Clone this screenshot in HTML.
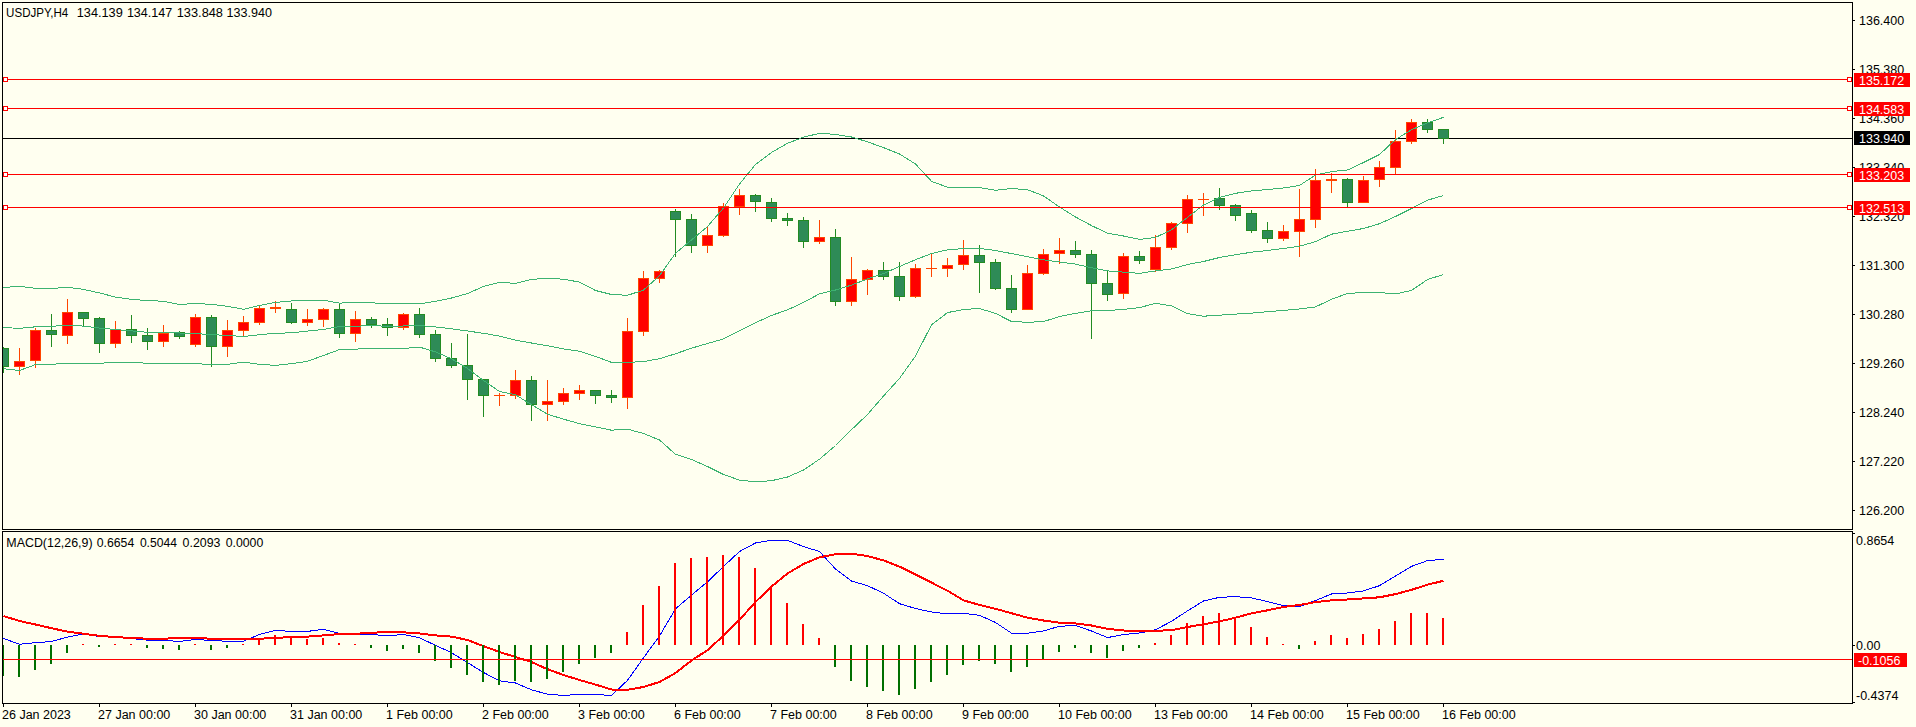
<!DOCTYPE html>
<html><head><meta charset="utf-8"><title>USDJPY,H4</title>
<style>html,body{margin:0;padding:0;background:#FFFFF0;width:1916px;height:727px;overflow:hidden}
text{white-space:pre}</style></head>
<body><svg width="1916" height="727" viewBox="0 0 1916 727" style="display:block" shape-rendering="crispEdges"><g>
<rect x="3" y="138" width="1849" height="1" fill="#000"/>
<rect x="3" y="347" width="1" height="26" fill="#228B22"/>
<rect x="-2" y="348" width="11" height="19" fill="#228B22"/>
<rect x="-1" y="349" width="9" height="17" fill="#2E8B57"/>
<rect x="19" y="348" width="1" height="27" fill="#FF4500"/>
<rect x="14" y="361" width="11" height="6" fill="#FF4500"/>
<rect x="15" y="362" width="9" height="4" fill="#FF0000"/>
<rect x="35" y="328" width="1" height="40" fill="#FF4500"/>
<rect x="30" y="330" width="11" height="31" fill="#FF4500"/>
<rect x="31" y="331" width="9" height="29" fill="#FF0000"/>
<rect x="51" y="314" width="1" height="33" fill="#228B22"/>
<rect x="46" y="330" width="11" height="5" fill="#228B22"/>
<rect x="47" y="331" width="9" height="3" fill="#2E8B57"/>
<rect x="67" y="299" width="1" height="45" fill="#FF4500"/>
<rect x="62" y="312" width="11" height="24" fill="#FF4500"/>
<rect x="63" y="313" width="9" height="22" fill="#FF0000"/>
<rect x="83" y="312" width="1" height="14" fill="#228B22"/>
<rect x="78" y="312" width="11" height="7" fill="#228B22"/>
<rect x="79" y="313" width="9" height="5" fill="#2E8B57"/>
<rect x="99" y="317" width="1" height="36" fill="#228B22"/>
<rect x="94" y="318" width="11" height="26" fill="#228B22"/>
<rect x="95" y="319" width="9" height="24" fill="#2E8B57"/>
<rect x="115" y="321" width="1" height="27" fill="#FF4500"/>
<rect x="110" y="329" width="11" height="15" fill="#FF4500"/>
<rect x="111" y="330" width="9" height="13" fill="#FF0000"/>
<rect x="131" y="315" width="1" height="28" fill="#228B22"/>
<rect x="126" y="329" width="11" height="7" fill="#228B22"/>
<rect x="127" y="330" width="9" height="5" fill="#2E8B57"/>
<rect x="147" y="328" width="1" height="22" fill="#228B22"/>
<rect x="142" y="335" width="11" height="7" fill="#228B22"/>
<rect x="143" y="336" width="9" height="5" fill="#2E8B57"/>
<rect x="163" y="325" width="1" height="22" fill="#FF4500"/>
<rect x="158" y="333" width="11" height="9" fill="#FF4500"/>
<rect x="159" y="334" width="9" height="7" fill="#FF0000"/>
<rect x="179" y="331" width="1" height="8" fill="#228B22"/>
<rect x="174" y="332" width="11" height="5" fill="#228B22"/>
<rect x="175" y="333" width="9" height="3" fill="#2E8B57"/>
<rect x="195" y="314" width="1" height="33" fill="#FF4500"/>
<rect x="190" y="317" width="11" height="28" fill="#FF4500"/>
<rect x="191" y="318" width="9" height="26" fill="#FF0000"/>
<rect x="211" y="315" width="1" height="52" fill="#228B22"/>
<rect x="206" y="317" width="11" height="30" fill="#228B22"/>
<rect x="207" y="318" width="9" height="28" fill="#2E8B57"/>
<rect x="227" y="320" width="1" height="37" fill="#FF4500"/>
<rect x="222" y="330" width="11" height="17" fill="#FF4500"/>
<rect x="223" y="331" width="9" height="15" fill="#FF0000"/>
<rect x="243" y="316" width="1" height="20" fill="#FF4500"/>
<rect x="238" y="322" width="11" height="9" fill="#FF4500"/>
<rect x="239" y="323" width="9" height="7" fill="#FF0000"/>
<rect x="259" y="306" width="1" height="19" fill="#FF4500"/>
<rect x="254" y="308" width="11" height="15" fill="#FF4500"/>
<rect x="255" y="309" width="9" height="13" fill="#FF0000"/>
<rect x="275" y="301" width="1" height="12" fill="#FF4500"/>
<rect x="270" y="307" width="11" height="2" fill="#FF4500"/>
<rect x="291" y="303" width="1" height="21" fill="#228B22"/>
<rect x="286" y="309" width="11" height="14" fill="#228B22"/>
<rect x="287" y="310" width="9" height="12" fill="#2E8B57"/>
<rect x="307" y="309" width="1" height="17" fill="#FF4500"/>
<rect x="302" y="319" width="11" height="4" fill="#FF4500"/>
<rect x="303" y="320" width="9" height="2" fill="#FF0000"/>
<rect x="323" y="308" width="1" height="19" fill="#FF4500"/>
<rect x="318" y="309" width="11" height="11" fill="#FF4500"/>
<rect x="319" y="310" width="9" height="9" fill="#FF0000"/>
<rect x="339" y="304" width="1" height="34" fill="#228B22"/>
<rect x="334" y="309" width="11" height="25" fill="#228B22"/>
<rect x="335" y="310" width="9" height="23" fill="#2E8B57"/>
<rect x="355" y="311" width="1" height="31" fill="#FF4500"/>
<rect x="350" y="319" width="11" height="15" fill="#FF4500"/>
<rect x="351" y="320" width="9" height="13" fill="#FF0000"/>
<rect x="371" y="317" width="1" height="11" fill="#228B22"/>
<rect x="366" y="319" width="11" height="6" fill="#228B22"/>
<rect x="367" y="320" width="9" height="4" fill="#2E8B57"/>
<rect x="387" y="318" width="1" height="18" fill="#228B22"/>
<rect x="382" y="324" width="11" height="4" fill="#228B22"/>
<rect x="383" y="325" width="9" height="2" fill="#2E8B57"/>
<rect x="403" y="313" width="1" height="17" fill="#FF4500"/>
<rect x="398" y="314" width="11" height="14" fill="#FF4500"/>
<rect x="399" y="315" width="9" height="12" fill="#FF0000"/>
<rect x="419" y="308" width="1" height="30" fill="#228B22"/>
<rect x="414" y="314" width="11" height="21" fill="#228B22"/>
<rect x="415" y="315" width="9" height="19" fill="#2E8B57"/>
<rect x="435" y="330" width="1" height="32" fill="#228B22"/>
<rect x="430" y="334" width="11" height="25" fill="#228B22"/>
<rect x="431" y="335" width="9" height="23" fill="#2E8B57"/>
<rect x="451" y="343" width="1" height="25" fill="#228B22"/>
<rect x="446" y="358" width="11" height="8" fill="#228B22"/>
<rect x="447" y="359" width="9" height="6" fill="#2E8B57"/>
<rect x="467" y="334" width="1" height="66" fill="#228B22"/>
<rect x="462" y="365" width="11" height="15" fill="#228B22"/>
<rect x="463" y="366" width="9" height="13" fill="#2E8B57"/>
<rect x="483" y="379" width="1" height="38" fill="#228B22"/>
<rect x="478" y="379" width="11" height="17" fill="#228B22"/>
<rect x="479" y="380" width="9" height="15" fill="#2E8B57"/>
<rect x="499" y="393" width="1" height="13" fill="#FF4500"/>
<rect x="494" y="395" width="11" height="1" fill="#FF4500"/>
<rect x="515" y="370" width="1" height="29" fill="#FF4500"/>
<rect x="510" y="380" width="11" height="16" fill="#FF4500"/>
<rect x="511" y="381" width="9" height="14" fill="#FF0000"/>
<rect x="531" y="376" width="1" height="45" fill="#228B22"/>
<rect x="526" y="380" width="11" height="25" fill="#228B22"/>
<rect x="527" y="381" width="9" height="23" fill="#2E8B57"/>
<rect x="547" y="380" width="1" height="41" fill="#FF4500"/>
<rect x="542" y="401" width="11" height="4" fill="#FF4500"/>
<rect x="543" y="402" width="9" height="2" fill="#FF0000"/>
<rect x="563" y="388" width="1" height="17" fill="#FF4500"/>
<rect x="558" y="393" width="11" height="9" fill="#FF4500"/>
<rect x="559" y="394" width="9" height="7" fill="#FF0000"/>
<rect x="579" y="385" width="1" height="15" fill="#FF4500"/>
<rect x="574" y="390" width="11" height="4" fill="#FF4500"/>
<rect x="575" y="391" width="9" height="2" fill="#FF0000"/>
<rect x="595" y="390" width="1" height="14" fill="#228B22"/>
<rect x="590" y="390" width="11" height="6" fill="#228B22"/>
<rect x="591" y="391" width="9" height="4" fill="#2E8B57"/>
<rect x="611" y="390" width="1" height="13" fill="#228B22"/>
<rect x="606" y="395" width="11" height="3" fill="#228B22"/>
<rect x="607" y="396" width="9" height="1" fill="#2E8B57"/>
<rect x="627" y="318" width="1" height="91" fill="#FF4500"/>
<rect x="622" y="331" width="11" height="67" fill="#FF4500"/>
<rect x="623" y="332" width="9" height="65" fill="#FF0000"/>
<rect x="643" y="271" width="1" height="65" fill="#FF4500"/>
<rect x="638" y="278" width="11" height="54" fill="#FF4500"/>
<rect x="639" y="279" width="9" height="52" fill="#FF0000"/>
<rect x="659" y="270" width="1" height="13" fill="#FF4500"/>
<rect x="654" y="271" width="11" height="8" fill="#FF4500"/>
<rect x="655" y="272" width="9" height="6" fill="#FF0000"/>
<rect x="675" y="209" width="1" height="48" fill="#228B22"/>
<rect x="670" y="211" width="11" height="9" fill="#228B22"/>
<rect x="671" y="212" width="9" height="7" fill="#2E8B57"/>
<rect x="691" y="214" width="1" height="39" fill="#228B22"/>
<rect x="686" y="219" width="11" height="27" fill="#228B22"/>
<rect x="687" y="220" width="9" height="25" fill="#2E8B57"/>
<rect x="707" y="227" width="1" height="26" fill="#FF4500"/>
<rect x="702" y="235" width="11" height="11" fill="#FF4500"/>
<rect x="703" y="236" width="9" height="9" fill="#FF0000"/>
<rect x="723" y="203" width="1" height="34" fill="#FF4500"/>
<rect x="718" y="206" width="11" height="30" fill="#FF4500"/>
<rect x="719" y="207" width="9" height="28" fill="#FF0000"/>
<rect x="739" y="189" width="1" height="26" fill="#FF4500"/>
<rect x="734" y="195" width="11" height="12" fill="#FF4500"/>
<rect x="735" y="196" width="9" height="10" fill="#FF0000"/>
<rect x="755" y="194" width="1" height="18" fill="#228B22"/>
<rect x="750" y="195" width="11" height="7" fill="#228B22"/>
<rect x="751" y="196" width="9" height="5" fill="#2E8B57"/>
<rect x="771" y="198" width="1" height="24" fill="#228B22"/>
<rect x="766" y="202" width="11" height="17" fill="#228B22"/>
<rect x="767" y="203" width="9" height="15" fill="#2E8B57"/>
<rect x="787" y="213" width="1" height="13" fill="#228B22"/>
<rect x="782" y="218" width="11" height="3" fill="#228B22"/>
<rect x="783" y="219" width="9" height="1" fill="#2E8B57"/>
<rect x="803" y="217" width="1" height="31" fill="#228B22"/>
<rect x="798" y="220" width="11" height="22" fill="#228B22"/>
<rect x="799" y="221" width="9" height="20" fill="#2E8B57"/>
<rect x="819" y="220" width="1" height="24" fill="#FF4500"/>
<rect x="814" y="237" width="11" height="5" fill="#FF4500"/>
<rect x="815" y="238" width="9" height="3" fill="#FF0000"/>
<rect x="835" y="229" width="1" height="77" fill="#228B22"/>
<rect x="830" y="237" width="11" height="65" fill="#228B22"/>
<rect x="831" y="238" width="9" height="63" fill="#2E8B57"/>
<rect x="851" y="257" width="1" height="49" fill="#FF4500"/>
<rect x="846" y="279" width="11" height="23" fill="#FF4500"/>
<rect x="847" y="280" width="9" height="21" fill="#FF0000"/>
<rect x="867" y="269" width="1" height="26" fill="#FF4500"/>
<rect x="862" y="270" width="11" height="10" fill="#FF4500"/>
<rect x="863" y="271" width="9" height="8" fill="#FF0000"/>
<rect x="883" y="262" width="1" height="18" fill="#228B22"/>
<rect x="878" y="270" width="11" height="7" fill="#228B22"/>
<rect x="879" y="271" width="9" height="5" fill="#2E8B57"/>
<rect x="899" y="262" width="1" height="39" fill="#228B22"/>
<rect x="894" y="276" width="11" height="21" fill="#228B22"/>
<rect x="895" y="277" width="9" height="19" fill="#2E8B57"/>
<rect x="915" y="264" width="1" height="34" fill="#FF4500"/>
<rect x="910" y="268" width="11" height="29" fill="#FF4500"/>
<rect x="911" y="269" width="9" height="27" fill="#FF0000"/>
<rect x="931" y="254" width="1" height="23" fill="#FF4500"/>
<rect x="926" y="268" width="11" height="1" fill="#FF4500"/>
<rect x="947" y="258" width="1" height="19" fill="#FF4500"/>
<rect x="942" y="265" width="11" height="4" fill="#FF4500"/>
<rect x="943" y="266" width="9" height="2" fill="#FF0000"/>
<rect x="963" y="240" width="1" height="30" fill="#FF4500"/>
<rect x="958" y="255" width="11" height="10" fill="#FF4500"/>
<rect x="959" y="256" width="9" height="8" fill="#FF0000"/>
<rect x="979" y="245" width="1" height="48" fill="#228B22"/>
<rect x="974" y="255" width="11" height="8" fill="#228B22"/>
<rect x="975" y="256" width="9" height="6" fill="#2E8B57"/>
<rect x="995" y="259" width="1" height="31" fill="#228B22"/>
<rect x="990" y="262" width="11" height="27" fill="#228B22"/>
<rect x="991" y="263" width="9" height="25" fill="#2E8B57"/>
<rect x="1011" y="275" width="1" height="38" fill="#228B22"/>
<rect x="1006" y="288" width="11" height="22" fill="#228B22"/>
<rect x="1007" y="289" width="9" height="20" fill="#2E8B57"/>
<rect x="1027" y="265" width="1" height="45" fill="#FF4500"/>
<rect x="1022" y="273" width="11" height="37" fill="#FF4500"/>
<rect x="1023" y="274" width="9" height="35" fill="#FF0000"/>
<rect x="1043" y="249" width="1" height="26" fill="#FF4500"/>
<rect x="1038" y="254" width="11" height="20" fill="#FF4500"/>
<rect x="1039" y="255" width="9" height="18" fill="#FF0000"/>
<rect x="1059" y="238" width="1" height="26" fill="#FF4500"/>
<rect x="1054" y="250" width="11" height="4" fill="#FF4500"/>
<rect x="1055" y="251" width="9" height="2" fill="#FF0000"/>
<rect x="1075" y="241" width="1" height="17" fill="#228B22"/>
<rect x="1070" y="250" width="11" height="5" fill="#228B22"/>
<rect x="1071" y="251" width="9" height="3" fill="#2E8B57"/>
<rect x="1091" y="250" width="1" height="89" fill="#228B22"/>
<rect x="1086" y="254" width="11" height="30" fill="#228B22"/>
<rect x="1087" y="255" width="9" height="28" fill="#2E8B57"/>
<rect x="1107" y="271" width="1" height="30" fill="#228B22"/>
<rect x="1102" y="283" width="11" height="12" fill="#228B22"/>
<rect x="1103" y="284" width="9" height="10" fill="#2E8B57"/>
<rect x="1123" y="253" width="1" height="46" fill="#FF4500"/>
<rect x="1118" y="256" width="11" height="38" fill="#FF4500"/>
<rect x="1119" y="257" width="9" height="36" fill="#FF0000"/>
<rect x="1139" y="251" width="1" height="13" fill="#228B22"/>
<rect x="1134" y="256" width="11" height="5" fill="#228B22"/>
<rect x="1135" y="257" width="9" height="3" fill="#2E8B57"/>
<rect x="1155" y="235" width="1" height="37" fill="#FF4500"/>
<rect x="1150" y="247" width="11" height="23" fill="#FF4500"/>
<rect x="1151" y="248" width="9" height="21" fill="#FF0000"/>
<rect x="1171" y="222" width="1" height="28" fill="#FF4500"/>
<rect x="1166" y="223" width="11" height="25" fill="#FF4500"/>
<rect x="1167" y="224" width="9" height="23" fill="#FF0000"/>
<rect x="1187" y="195" width="1" height="38" fill="#FF4500"/>
<rect x="1182" y="199" width="11" height="25" fill="#FF4500"/>
<rect x="1183" y="200" width="9" height="23" fill="#FF0000"/>
<rect x="1203" y="193" width="1" height="23" fill="#FF4500"/>
<rect x="1198" y="199" width="11" height="1" fill="#FF4500"/>
<rect x="1219" y="188" width="1" height="22" fill="#228B22"/>
<rect x="1214" y="198" width="11" height="8" fill="#228B22"/>
<rect x="1215" y="199" width="9" height="6" fill="#2E8B57"/>
<rect x="1235" y="204" width="1" height="17" fill="#228B22"/>
<rect x="1230" y="205" width="11" height="11" fill="#228B22"/>
<rect x="1231" y="206" width="9" height="9" fill="#2E8B57"/>
<rect x="1251" y="210" width="1" height="23" fill="#228B22"/>
<rect x="1246" y="213" width="11" height="18" fill="#228B22"/>
<rect x="1247" y="214" width="9" height="16" fill="#2E8B57"/>
<rect x="1267" y="222" width="1" height="21" fill="#228B22"/>
<rect x="1262" y="230" width="11" height="9" fill="#228B22"/>
<rect x="1263" y="231" width="9" height="7" fill="#2E8B57"/>
<rect x="1283" y="225" width="1" height="16" fill="#FF4500"/>
<rect x="1278" y="231" width="11" height="8" fill="#FF4500"/>
<rect x="1279" y="232" width="9" height="6" fill="#FF0000"/>
<rect x="1299" y="189" width="1" height="68" fill="#FF4500"/>
<rect x="1294" y="219" width="11" height="13" fill="#FF4500"/>
<rect x="1295" y="220" width="9" height="11" fill="#FF0000"/>
<rect x="1315" y="169" width="1" height="59" fill="#FF4500"/>
<rect x="1310" y="180" width="11" height="40" fill="#FF4500"/>
<rect x="1311" y="181" width="9" height="38" fill="#FF0000"/>
<rect x="1331" y="173" width="1" height="20" fill="#FF4500"/>
<rect x="1326" y="179" width="11" height="2" fill="#FF4500"/>
<rect x="1347" y="178" width="1" height="29" fill="#228B22"/>
<rect x="1342" y="179" width="11" height="24" fill="#228B22"/>
<rect x="1343" y="180" width="9" height="22" fill="#2E8B57"/>
<rect x="1363" y="176" width="1" height="27" fill="#FF4500"/>
<rect x="1358" y="180" width="11" height="23" fill="#FF4500"/>
<rect x="1359" y="181" width="9" height="21" fill="#FF0000"/>
<rect x="1379" y="161" width="1" height="26" fill="#FF4500"/>
<rect x="1374" y="167" width="11" height="13" fill="#FF4500"/>
<rect x="1375" y="168" width="9" height="11" fill="#FF0000"/>
<rect x="1395" y="130" width="1" height="44" fill="#FF4500"/>
<rect x="1390" y="141" width="11" height="27" fill="#FF4500"/>
<rect x="1391" y="142" width="9" height="25" fill="#FF0000"/>
<rect x="1411" y="119" width="1" height="25" fill="#FF4500"/>
<rect x="1406" y="122" width="11" height="20" fill="#FF4500"/>
<rect x="1407" y="123" width="9" height="18" fill="#FF0000"/>
<rect x="1427" y="119" width="1" height="14" fill="#228B22"/>
<rect x="1422" y="122" width="11" height="8" fill="#228B22"/>
<rect x="1423" y="123" width="9" height="6" fill="#2E8B57"/>
<rect x="1443" y="129" width="1" height="15" fill="#228B22"/>
<rect x="1438" y="129" width="11" height="10" fill="#228B22"/>
<rect x="1439" y="130" width="9" height="8" fill="#2E8B57"/>
</g>
<polyline points="3.5,287.4 19.5,286.4 35.5,288.3 51.5,288.5 67.5,287.2 83.5,289.4 99.5,292.9 115.5,297.1 131.5,299.4 147.5,300.5 163.5,301.3 179.5,304.5 195.5,303.4 211.5,304.4 227.5,306.3 243.5,309.3 259.5,305.4 275.5,302.4 291.5,301.0 307.5,300.3 323.5,300.3 339.5,303.1 355.5,302.4 371.5,302.7 387.5,304.0 403.5,303.5 419.5,303.8 435.5,301.3 451.5,298.0 467.5,293.6 483.5,286.4 499.5,282.3 515.5,283.4 531.5,279.3 547.5,278.4 563.5,279.2 579.5,282.1 595.5,290.5 611.5,294.5 627.5,295.3 643.5,290.1 659.5,275.7 675.5,253.2 691.5,240.0 707.5,226.5 723.5,208.0 739.5,184.0 755.5,164.5 771.5,152.5 787.5,143.3 803.5,137.2 819.5,133.3 835.5,134.4 851.5,137.0 867.5,141.8 883.5,147.6 899.5,154.0 915.5,164.0 931.5,181.3 947.5,187.2 963.5,187.2 979.5,187.5 995.5,190.3 1011.5,188.5 1027.5,189.7 1043.5,195.9 1059.5,207.0 1075.5,217.0 1091.5,225.6 1107.5,233.2 1123.5,236.0 1139.5,239.4 1155.5,237.4 1171.5,229.8 1187.5,217.4 1203.5,205.0 1219.5,197.5 1235.5,193.3 1251.5,191.0 1267.5,189.5 1283.5,188.0 1299.5,185.5 1315.5,175.0 1331.5,171.6 1347.5,170.0 1363.5,162.5 1379.5,154.5 1395.5,139.6 1411.5,129.7 1427.5,122.9 1443.5,117.3" fill="none" stroke="#3CB371" stroke-width="1" shape-rendering="crispEdges" stroke-linejoin="round"/>
<polyline points="3.5,327.5 19.5,328.4 35.5,326.8 51.5,326.4 67.5,325.1 83.5,326.1 99.5,328.1 115.5,329.5 131.5,330.9 147.5,332.3 163.5,332.5 179.5,333.0 195.5,333.5 211.5,334.7 227.5,335.4 243.5,336.5 259.5,334.7 275.5,333.3 291.5,332.8 307.5,331.1 323.5,329.4 339.5,326.6 355.5,326.5 371.5,325.1 387.5,326.7 403.5,326.0 419.5,325.5 435.5,326.9 451.5,328.8 467.5,331.0 483.5,333.3 499.5,336.1 515.5,340.2 531.5,343.0 547.5,345.7 563.5,348.9 579.5,351.3 595.5,356.4 611.5,362.4 627.5,362.4 643.5,361.6 659.5,358.7 675.5,353.8 691.5,348.2 707.5,343.5 723.5,338.9 739.5,330.9 755.5,322.8 771.5,315.4 787.5,309.9 803.5,302.4 819.5,293.8 835.5,290.0 851.5,285.1 867.5,278.9 883.5,273.6 899.5,266.5 915.5,259.7 931.5,253.5 947.5,249.8 963.5,248.6 979.5,248.4 995.5,250.5 1011.5,253.6 1027.5,256.7 1043.5,259.8 1059.5,262.0 1075.5,264.1 1091.5,267.8 1107.5,270.9 1123.5,272.1 1139.5,273.4 1155.5,270.9 1171.5,269.0 1187.5,264.5 1203.5,261.5 1219.5,257.5 1235.5,254.8 1251.5,252.2 1267.5,250.5 1283.5,248.5 1299.5,246.2 1315.5,241.6 1331.5,234.2 1347.5,231.2 1363.5,228.5 1379.5,223.7 1395.5,216.5 1411.5,208.5 1427.5,200.2 1443.5,195.5" fill="none" stroke="#3CB371" stroke-width="1" shape-rendering="crispEdges" stroke-linejoin="round"/>
<polyline points="3.5,368.7 19.5,370.5 35.5,364.6 51.5,364.2 67.5,363.5 83.5,363.2 99.5,363.2 115.5,362.5 131.5,362.5 147.5,363.2 163.5,363.2 179.5,363.2 195.5,363.6 211.5,364.6 227.5,364.3 243.5,362.2 259.5,364.3 275.5,365.4 291.5,363.6 307.5,361.3 323.5,355.5 339.5,349.6 355.5,349.1 371.5,348.5 387.5,348.5 403.5,348.5 419.5,347.1 435.5,351.9 451.5,358.8 467.5,368.4 483.5,380.5 499.5,391.5 515.5,394.8 531.5,404.7 547.5,414.2 563.5,419.2 579.5,423.6 595.5,426.9 611.5,430.2 627.5,429.1 643.5,433.5 659.5,440.0 675.5,454.3 691.5,459.5 707.5,466.5 723.5,474.5 739.5,480.1 755.5,481.9 771.5,480.7 787.5,477.0 803.5,470.0 819.5,459.2 835.5,445.5 851.5,429.7 867.5,414.5 883.5,396.0 899.5,378.4 915.5,356.0 931.5,324.9 947.5,312.6 963.5,309.5 979.5,308.5 995.5,313.4 1011.5,321.5 1027.5,322.3 1043.5,321.6 1059.5,316.5 1075.5,313.4 1091.5,310.7 1107.5,310.5 1123.5,309.4 1139.5,307.6 1155.5,303.4 1171.5,305.8 1187.5,313.6 1203.5,316.2 1219.5,315.2 1235.5,314.1 1251.5,313.1 1267.5,311.7 1283.5,310.4 1299.5,309.0 1315.5,306.9 1331.5,299.3 1347.5,293.5 1363.5,292.5 1379.5,292.5 1395.5,293.9 1411.5,290.4 1427.5,279.5 1443.5,274.5" fill="none" stroke="#3CB371" stroke-width="1" shape-rendering="crispEdges" stroke-linejoin="round"/>
<rect x="3" y="79" width="1849" height="1" fill="#FF0000"/>
<rect x="3" y="77" width="5" height="5" fill="#FF0000"/>
<rect x="4" y="78" width="3" height="3" fill="#FFFFFF"/>
<rect x="1847" y="77" width="5" height="5" fill="#FF0000"/>
<rect x="1848" y="78" width="3" height="3" fill="#FFFFFF"/>
<rect x="3" y="108" width="1849" height="1" fill="#FF0000"/>
<rect x="3" y="106" width="5" height="5" fill="#FF0000"/>
<rect x="4" y="107" width="3" height="3" fill="#FFFFFF"/>
<rect x="1847" y="106" width="5" height="5" fill="#FF0000"/>
<rect x="1848" y="107" width="3" height="3" fill="#FFFFFF"/>
<rect x="3" y="174" width="1849" height="1" fill="#FF0000"/>
<rect x="3" y="172" width="5" height="5" fill="#FF0000"/>
<rect x="4" y="173" width="3" height="3" fill="#FFFFFF"/>
<rect x="1847" y="172" width="5" height="5" fill="#FF0000"/>
<rect x="1848" y="173" width="3" height="3" fill="#FFFFFF"/>
<rect x="3" y="207" width="1849" height="1" fill="#FF0000"/>
<rect x="3" y="205" width="5" height="5" fill="#FF0000"/>
<rect x="4" y="206" width="3" height="3" fill="#FFFFFF"/>
<rect x="1847" y="205" width="5" height="5" fill="#FF0000"/>
<rect x="1848" y="206" width="3" height="3" fill="#FFFFFF"/>
<polyline points="3.5,638.4 19.5,644.3 35.5,642.7 51.5,641.5 67.5,637.1 83.5,634.0 99.5,636.5 115.5,636.5 131.5,638.6 147.5,640.2 163.5,640.2 179.5,641.5 195.5,639.5 211.5,640.5 227.5,641.3 243.5,641.1 259.5,634.5 275.5,630.4 291.5,631.4 307.5,631.4 323.5,629.3 339.5,633.5 355.5,633.8 371.5,634.5 387.5,635.8 403.5,634.5 419.5,637.8 435.5,645.3 451.5,652.7 467.5,662.6 483.5,672.5 499.5,680.8 515.5,683.0 531.5,689.8 547.5,694.2 563.5,695.4 579.5,694.5 595.5,694.7 611.5,695.3 627.5,680.4 643.5,657.8 659.5,636.0 675.5,608.8 691.5,595.2 707.5,581.8 723.5,566.5 739.5,551.5 755.5,543.0 771.5,540.3 787.5,540.3 803.5,546.6 819.5,551.5 835.5,569.0 851.5,581.0 867.5,585.7 883.5,593.2 899.5,603.7 915.5,608.5 931.5,612.0 947.5,613.8 963.5,613.4 979.5,615.3 995.5,622.5 1011.5,633.2 1027.5,633.2 1043.5,630.9 1059.5,626.3 1075.5,625.5 1091.5,631.0 1107.5,637.6 1123.5,634.5 1139.5,633.0 1155.5,629.8 1171.5,621.3 1187.5,610.9 1203.5,601.0 1219.5,597.3 1235.5,596.7 1251.5,597.9 1267.5,601.6 1283.5,605.7 1299.5,606.6 1315.5,600.5 1331.5,594.0 1347.5,593.0 1363.5,590.9 1379.5,585.7 1395.5,576.0 1411.5,566.4 1427.5,560.6 1443.5,559.4" fill="none" stroke="#0000FF" stroke-width="1" shape-rendering="crispEdges" stroke-linejoin="round"/>
<polyline points="3.5,616.0 19.5,621.0 35.5,624.5 51.5,628.2 67.5,631.6 83.5,633.7 99.5,635.9 115.5,637.1 131.5,638.0 147.5,638.7 163.5,638.7 179.5,638.0 195.5,638.0 211.5,638.7 227.5,638.9 243.5,638.9 259.5,638.7 275.5,638.0 291.5,636.9 307.5,636.6 323.5,635.4 339.5,634.0 355.5,633.8 371.5,632.8 387.5,632.0 403.5,632.3 419.5,633.5 435.5,635.4 451.5,636.6 467.5,640.0 483.5,646.1 499.5,652.0 515.5,657.0 531.5,662.0 547.5,669.2 563.5,675.0 579.5,680.0 595.5,684.6 611.5,689.5 627.5,689.8 643.5,687.0 659.5,682.0 675.5,673.0 691.5,660.5 707.5,650.2 723.5,635.6 739.5,619.8 755.5,602.0 771.5,586.5 787.5,573.5 803.5,564.0 819.5,557.3 835.5,554.2 851.5,553.8 867.5,556.0 883.5,560.4 899.5,566.6 915.5,574.4 931.5,582.6 947.5,590.7 963.5,600.3 979.5,605.0 995.5,608.8 1011.5,613.2 1027.5,617.7 1043.5,620.5 1059.5,622.7 1075.5,623.4 1091.5,625.5 1107.5,628.8 1123.5,630.5 1139.5,630.8 1155.5,630.8 1171.5,630.2 1187.5,627.0 1203.5,624.3 1219.5,621.4 1235.5,617.7 1251.5,613.4 1267.5,610.3 1283.5,606.9 1299.5,605.0 1315.5,602.1 1331.5,600.3 1347.5,599.5 1363.5,598.4 1379.5,597.3 1395.5,594.1 1411.5,589.8 1427.5,584.7 1443.5,580.8" fill="none" stroke="#FF0000" stroke-width="2" shape-rendering="crispEdges" stroke-linejoin="round"/>
<rect x="2" y="645" width="2" height="31" fill="#007000"/>
<rect x="18" y="645" width="2" height="32" fill="#007000"/>
<rect x="34" y="645" width="2" height="25" fill="#007000"/>
<rect x="50" y="645" width="2" height="19" fill="#007000"/>
<rect x="66" y="645" width="2" height="8" fill="#007000"/>
<rect x="82" y="644" width="2" height="1" fill="#FF0000"/>
<rect x="98" y="645" width="2" height="2" fill="#007000"/>
<rect x="114" y="644" width="2" height="1" fill="#FF0000"/>
<rect x="130" y="644" width="2" height="1" fill="#FF0000"/>
<rect x="146" y="645" width="2" height="3" fill="#007000"/>
<rect x="162" y="645" width="2" height="4" fill="#007000"/>
<rect x="178" y="645" width="2" height="5" fill="#007000"/>
<rect x="194" y="644" width="2" height="1" fill="#FF0000"/>
<rect x="210" y="645" width="2" height="5" fill="#007000"/>
<rect x="226" y="645" width="2" height="3" fill="#007000"/>
<rect x="242" y="644" width="2" height="1" fill="#FF0000"/>
<rect x="258" y="640" width="2" height="5" fill="#FF0000"/>
<rect x="274" y="635" width="2" height="10" fill="#FF0000"/>
<rect x="290" y="638" width="2" height="7" fill="#FF0000"/>
<rect x="306" y="639" width="2" height="6" fill="#FF0000"/>
<rect x="322" y="638" width="2" height="7" fill="#FF0000"/>
<rect x="338" y="643" width="2" height="2" fill="#FF0000"/>
<rect x="354" y="644" width="2" height="1" fill="#FF0000"/>
<rect x="370" y="645" width="2" height="3" fill="#007000"/>
<rect x="386" y="645" width="2" height="6" fill="#007000"/>
<rect x="402" y="645" width="2" height="4" fill="#007000"/>
<rect x="418" y="645" width="2" height="8" fill="#007000"/>
<rect x="434" y="645" width="2" height="16" fill="#007000"/>
<rect x="450" y="645" width="2" height="23" fill="#007000"/>
<rect x="466" y="645" width="2" height="30" fill="#007000"/>
<rect x="482" y="645" width="2" height="37" fill="#007000"/>
<rect x="498" y="645" width="2" height="40" fill="#007000"/>
<rect x="514" y="645" width="2" height="36" fill="#007000"/>
<rect x="530" y="645" width="2" height="37" fill="#007000"/>
<rect x="546" y="645" width="2" height="34" fill="#007000"/>
<rect x="562" y="645" width="2" height="27" fill="#007000"/>
<rect x="578" y="645" width="2" height="19" fill="#007000"/>
<rect x="594" y="645" width="2" height="13" fill="#007000"/>
<rect x="610" y="645" width="2" height="8" fill="#007000"/>
<rect x="626" y="632" width="2" height="13" fill="#FF0000"/>
<rect x="642" y="605" width="2" height="40" fill="#FF0000"/>
<rect x="658" y="586" width="2" height="59" fill="#FF0000"/>
<rect x="674" y="563" width="2" height="82" fill="#FF0000"/>
<rect x="690" y="558" width="2" height="87" fill="#FF0000"/>
<rect x="706" y="557" width="2" height="88" fill="#FF0000"/>
<rect x="722" y="555" width="2" height="90" fill="#FF0000"/>
<rect x="738" y="557" width="2" height="88" fill="#FF0000"/>
<rect x="754" y="568" width="2" height="77" fill="#FF0000"/>
<rect x="770" y="587" width="2" height="58" fill="#FF0000"/>
<rect x="786" y="603" width="2" height="42" fill="#FF0000"/>
<rect x="802" y="624" width="2" height="21" fill="#FF0000"/>
<rect x="818" y="638" width="2" height="7" fill="#FF0000"/>
<rect x="834" y="645" width="2" height="22" fill="#007000"/>
<rect x="850" y="645" width="2" height="36" fill="#007000"/>
<rect x="866" y="645" width="2" height="42" fill="#007000"/>
<rect x="882" y="645" width="2" height="46" fill="#007000"/>
<rect x="898" y="645" width="2" height="50" fill="#007000"/>
<rect x="914" y="645" width="2" height="44" fill="#007000"/>
<rect x="930" y="645" width="2" height="37" fill="#007000"/>
<rect x="946" y="645" width="2" height="30" fill="#007000"/>
<rect x="962" y="645" width="2" height="20" fill="#007000"/>
<rect x="978" y="645" width="2" height="16" fill="#007000"/>
<rect x="994" y="645" width="2" height="19" fill="#007000"/>
<rect x="1010" y="645" width="2" height="27" fill="#007000"/>
<rect x="1026" y="645" width="2" height="22" fill="#007000"/>
<rect x="1042" y="645" width="2" height="14" fill="#007000"/>
<rect x="1058" y="645" width="2" height="7" fill="#007000"/>
<rect x="1074" y="645" width="2" height="3" fill="#007000"/>
<rect x="1090" y="645" width="2" height="8" fill="#007000"/>
<rect x="1106" y="645" width="2" height="13" fill="#007000"/>
<rect x="1122" y="645" width="2" height="6" fill="#007000"/>
<rect x="1138" y="645" width="2" height="3" fill="#007000"/>
<rect x="1154" y="643" width="2" height="2" fill="#FF0000"/>
<rect x="1170" y="635" width="2" height="10" fill="#FF0000"/>
<rect x="1186" y="623" width="2" height="22" fill="#FF0000"/>
<rect x="1202" y="616" width="2" height="29" fill="#FF0000"/>
<rect x="1218" y="613" width="2" height="32" fill="#FF0000"/>
<rect x="1234" y="618" width="2" height="27" fill="#FF0000"/>
<rect x="1250" y="627" width="2" height="18" fill="#FF0000"/>
<rect x="1266" y="637" width="2" height="8" fill="#FF0000"/>
<rect x="1282" y="644" width="2" height="1" fill="#FF0000"/>
<rect x="1298" y="645" width="2" height="4" fill="#007000"/>
<rect x="1314" y="641" width="2" height="4" fill="#FF0000"/>
<rect x="1330" y="635" width="2" height="10" fill="#FF0000"/>
<rect x="1346" y="638" width="2" height="7" fill="#FF0000"/>
<rect x="1362" y="634" width="2" height="11" fill="#FF0000"/>
<rect x="1378" y="629" width="2" height="16" fill="#FF0000"/>
<rect x="1394" y="621" width="2" height="24" fill="#FF0000"/>
<rect x="1410" y="613" width="2" height="32" fill="#FF0000"/>
<rect x="1426" y="613" width="2" height="32" fill="#FF0000"/>
<rect x="1442" y="618" width="2" height="27" fill="#FF0000"/>
<rect x="3" y="659" width="1849" height="1" fill="#FF0000"/>
<rect x="0" y="0" width="3" height="727" fill="#FFFFF0"/>
<rect x="1852" y="0" width="64" height="727" fill="#FFFFF0"/>
<rect x="0" y="529" width="1852" height="3" fill="#FFFFF0"/>
<rect x="0" y="703" width="1852" height="24" fill="#FFFFF0"/>
<rect x="0" y="0" width="1916" height="2" fill="#FFFFF0"/>
<rect x="2" y="2" width="1851" height="1" fill="#000"/>
<rect x="2" y="529" width="1851" height="1" fill="#000"/>
<rect x="2" y="2" width="1" height="528" fill="#000"/>
<rect x="1852" y="2" width="1" height="528" fill="#000"/>
<rect x="2" y="531" width="1851" height="1" fill="#000"/>
<rect x="2" y="703" width="1851" height="1" fill="#000"/>
<rect x="2" y="531" width="1" height="173" fill="#000"/>
<rect x="1852" y="531" width="1" height="173" fill="#000"/>
<g style="font-family:'Liberation Sans',Arial,sans-serif;font-size:12.5px">
<rect x="1853" y="20" width="2" height="1" fill="#000"/>
<text x="1859" y="25" fill="#000" >136.400</text>
<rect x="1853" y="69" width="2" height="1" fill="#000"/>
<text x="1859" y="74" fill="#000" >135.380</text>
<rect x="1853" y="118" width="2" height="1" fill="#000"/>
<text x="1859" y="123" fill="#000" >134.360</text>
<rect x="1853" y="167" width="2" height="1" fill="#000"/>
<text x="1859" y="172" fill="#000" >133.340</text>
<rect x="1853" y="216" width="2" height="1" fill="#000"/>
<text x="1859" y="221" fill="#000" >132.320</text>
<rect x="1853" y="265" width="2" height="1" fill="#000"/>
<text x="1859" y="270" fill="#000" >131.300</text>
<rect x="1853" y="314" width="2" height="1" fill="#000"/>
<text x="1859" y="319" fill="#000" >130.280</text>
<rect x="1853" y="363" width="2" height="1" fill="#000"/>
<text x="1859" y="368" fill="#000" >129.260</text>
<rect x="1853" y="412" width="2" height="1" fill="#000"/>
<text x="1859" y="417" fill="#000" >128.240</text>
<rect x="1853" y="461" width="2" height="1" fill="#000"/>
<text x="1859" y="466" fill="#000" >127.220</text>
<rect x="1853" y="510" width="2" height="1" fill="#000"/>
<text x="1859" y="515" fill="#000" >126.200</text>
<rect x="1853" y="533" width="2" height="1" fill="#000"/>
<text x="1856" y="545" fill="#000" >0.8654</text>
<rect x="1853" y="645" width="2" height="1" fill="#000"/>
<text x="1856" y="650" fill="#000" >0.00</text>
<rect x="1853" y="702" width="2" height="1" fill="#000"/>
<text x="1856" y="700" fill="#000" >-0.4374</text>
<rect x="1854" y="73" width="56" height="14" fill="#FF0000"/>
<text x="1859" y="85" fill="#FFFFFF" >135.172</text>
<rect x="1854" y="102" width="56" height="14" fill="#FF0000"/>
<text x="1859" y="114" fill="#FFFFFF" >134.583</text>
<rect x="1854" y="131" width="56" height="14" fill="#000000"/>
<text x="1859" y="143" fill="#FFFFFF" >133.940</text>
<rect x="1854" y="168" width="56" height="14" fill="#FF0000"/>
<text x="1859" y="180" fill="#FFFFFF" >133.203</text>
<rect x="1854" y="201" width="56" height="14" fill="#FF0000"/>
<text x="1859" y="213" fill="#FFFFFF" >132.513</text>
<rect x="1854" y="653" width="53" height="14" fill="#FF0000"/>
<text x="1858" y="665" fill="#FFFFFF" >-0.1056</text>
<rect x="3" y="704" width="1" height="3" fill="#000"/>
<text x="2" y="719" fill="#000" >26 Jan 2023</text>
<rect x="99" y="704" width="1" height="3" fill="#000"/>
<text x="98" y="719" fill="#000" >27 Jan 00:00</text>
<rect x="195" y="704" width="1" height="3" fill="#000"/>
<text x="194" y="719" fill="#000" >30 Jan 00:00</text>
<rect x="291" y="704" width="1" height="3" fill="#000"/>
<text x="290" y="719" fill="#000" >31 Jan 00:00</text>
<rect x="387" y="704" width="1" height="3" fill="#000"/>
<text x="386" y="719" fill="#000" >1 Feb 00:00</text>
<rect x="483" y="704" width="1" height="3" fill="#000"/>
<text x="482" y="719" fill="#000" >2 Feb 00:00</text>
<rect x="579" y="704" width="1" height="3" fill="#000"/>
<text x="578" y="719" fill="#000" >3 Feb 00:00</text>
<rect x="675" y="704" width="1" height="3" fill="#000"/>
<text x="674" y="719" fill="#000" >6 Feb 00:00</text>
<rect x="771" y="704" width="1" height="3" fill="#000"/>
<text x="770" y="719" fill="#000" >7 Feb 00:00</text>
<rect x="867" y="704" width="1" height="3" fill="#000"/>
<text x="866" y="719" fill="#000" >8 Feb 00:00</text>
<rect x="963" y="704" width="1" height="3" fill="#000"/>
<text x="962" y="719" fill="#000" >9 Feb 00:00</text>
<rect x="1059" y="704" width="1" height="3" fill="#000"/>
<text x="1058" y="719" fill="#000" >10 Feb 00:00</text>
<rect x="1155" y="704" width="1" height="3" fill="#000"/>
<text x="1154" y="719" fill="#000" >13 Feb 00:00</text>
<rect x="1251" y="704" width="1" height="3" fill="#000"/>
<text x="1250" y="719" fill="#000" >14 Feb 00:00</text>
<rect x="1347" y="704" width="1" height="3" fill="#000"/>
<text x="1346" y="719" fill="#000" >15 Feb 00:00</text>
<rect x="1443" y="704" width="1" height="3" fill="#000"/>
<text x="1442" y="719" fill="#000" >16 Feb 00:00</text>
<text x="6.07" y="17" fill="#000" textLength="62.18" lengthAdjust="spacingAndGlyphs">USDJPY,H4</text>
<text x="76.78" y="17" fill="#000" textLength="46.01" lengthAdjust="spacingAndGlyphs">134.139</text>
<text x="126.9" y="17" fill="#000" textLength="45.39" lengthAdjust="spacingAndGlyphs">134.147</text>
<text x="176.78" y="17" fill="#000" textLength="46.21" lengthAdjust="spacingAndGlyphs">133.848</text>
<text x="226.5" y="17" fill="#000" textLength="45.39" lengthAdjust="spacingAndGlyphs">133.940</text>
<text x="6.31" y="547" fill="#000" textLength="86.23" lengthAdjust="spacingAndGlyphs">MACD(12,26,9)</text>
<text x="96.8" y="547" fill="#000" textLength="37.43" lengthAdjust="spacingAndGlyphs">0.6654</text>
<text x="139.9" y="547" fill="#000" textLength="37.03" lengthAdjust="spacingAndGlyphs">0.5044</text>
<text x="182.6" y="547" fill="#000" textLength="37.83" lengthAdjust="spacingAndGlyphs">0.2093</text>
<text x="225.7" y="547" fill="#000" textLength="37.53" lengthAdjust="spacingAndGlyphs">0.0000</text>
</g></svg></body></html>
